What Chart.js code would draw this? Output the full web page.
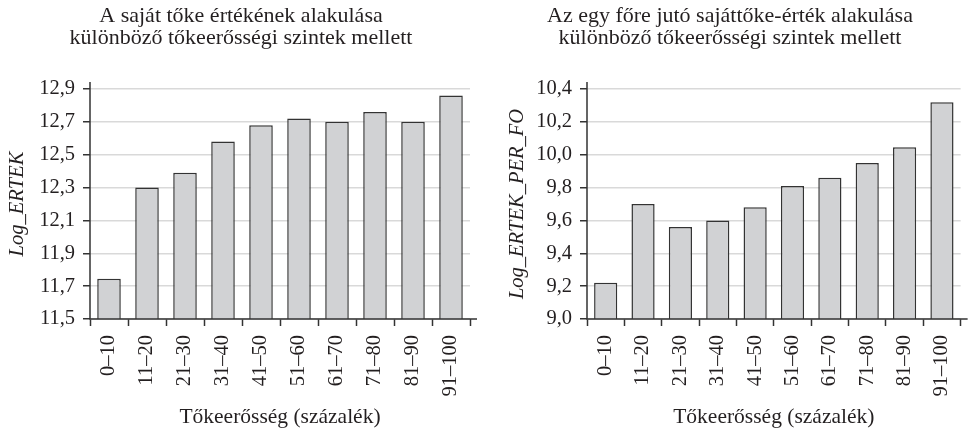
<!DOCTYPE html>
<html><head><meta charset="utf-8">
<script src="https://cdn.jsdelivr.net/npm/chart.js@4/dist/chart.umd.min.js"></script>
<style>
html,body{margin:0;padding:0;background:#fff;}
#wrap{position:relative;width:976px;height:432px;overflow:hidden;}
#c1{position:absolute;left:0;top:0;}
#c2{position:absolute;left:490px;top:0;}
</style></head><body>
<div id="wrap"><canvas id="c1" width="490" height="432"></canvas><canvas id="c2" width="486" height="432"></canvas></div>
<script>
// ---- data ----
const categories = ['0–10','11–20','21–30','31–40','41–50','51–60','61–70','71–80','81–90','91–100'];
const ertekValues = [11.745, 12.30, 12.39, 12.58, 12.68, 12.72, 12.70, 12.76, 12.70, 12.86];
const perFoValues = [9.22, 9.70, 9.56, 9.60, 9.68, 9.81, 9.86, 9.95, 10.045, 10.32];
const ertekTicks = [11.5, 11.7, 11.9, 12.1, 12.3, 12.5, 12.7, 12.9];
const perFoTicks = [9.0, 9.2, 9.4, 9.6, 9.8, 10.0, 10.2, 10.4];
const leftTitle = ['A saját tőke értékének alakulása', 'különböző tőkeerősségi szintek mellett'];
const rightTitle = ['Az egy főre jutó sajáttőke-érték alakulása', 'különböző tőkeerősségi szintek mellett'];
const xTitle = 'Tőkeerősség (százalék)';
const leftYTitle = 'Log_ERTEK';
const rightYTitle = 'Log_ERTEK_PER_FO';

Chart.defaults.font.family = "'Liberation Serif', 'DejaVu Serif', serif";
Chart.defaults.color = '#231f20';

const INK = '#333333';
const axisLines = {
  id: 'axisLines',
  afterDraw(chart) {
    const {ctx, chartArea: a} = chart;
    ctx.save();
    ctx.strokeStyle = INK;
    ctx.lineWidth = 1.5;
    ctx.beginPath();
    ctx.moveTo(a.left, a.top - 7);
    ctx.lineTo(a.left, a.bottom);
    ctx.lineTo(a.right + 7, a.bottom);
    ctx.stroke();
    ctx.restore();
  }
};

function makeChart(id, values, ticks, title, yTitle, padLeft, yWidth, padRight, yTitlePad) {
  return new Chart(document.getElementById(id), {
    type: 'bar',
    data: {
      labels: categories,
      datasets: [{
        data: values,
        backgroundColor: '#d1d2d4',
        borderColor: INK,
        borderWidth: 1.5,
        barPercentage: 0.62,
        categoryPercentage: 1
      }]
    },
    options: {
      responsive: false,
      animation: false,
      layout: {padding: {left: padLeft, right: padRight, top: 0, bottom: 0}},
      plugins: {
        legend: {display: false},
        tooltip: {enabled: false},
        title: {
          display: true,
          text: title,
          font: {size: 22, weight: 'normal', lineHeight: 0.977},
          color: '#231f20',
          padding: {top: 5.5, bottom: 40.5}
        }
      },
      scales: {
        x: {
          border: {display: false},
          grid: {drawOnChartArea: false, drawTicks: true, tickLength: 7, tickColor: INK, tickWidth: 1.5, offset: true},
          ticks: {font: {size: 20.5}, maxRotation: 90, minRotation: 90, padding: 9, color: '#231f20', autoSkip: false},
          title: {display: true, text: xTitle, font: {size: 21.5, lineHeight: 1.2}, padding: {top: 0, bottom: 2}, color: '#231f20'},
          afterFit(s) { s.height = 113; }
        },
        y: {
          min: ticks[0],
          max: ticks[ticks.length - 1],
          border: {display: false},
          afterBuildTicks(s) { s.ticks = ticks.map(v => ({value: v})); },
          grid: {color: '#d9d9d9', lineWidth: 1.5, drawTicks: true, tickLength: 7, tickColor: INK, tickWidth: 1.5},
          ticks: {font: {size: 20.5}, padding: 8, color: '#231f20',
            callback: v => Number(v).toFixed(1).replace('.', ',')},
          title: {display: true, text: yTitle, font: {size: 20.5, style: 'italic', lineHeight: 1.2}, padding: {top: yTitlePad, bottom: 0}, color: '#231f20'},
          afterFit(s) { s.width = yWidth; }
        }
      }
    },
    plugins: [axisLines]
  });
}

makeChart('c1', ertekValues, ertekTicks, leftTitle, leftYTitle, 12, 78, 20, -6.4);
makeChart('c2', perFoValues, perFoTicks, rightTitle, rightYTitle, 3, 94, 9, 11.9);
</script>
</body></html>
